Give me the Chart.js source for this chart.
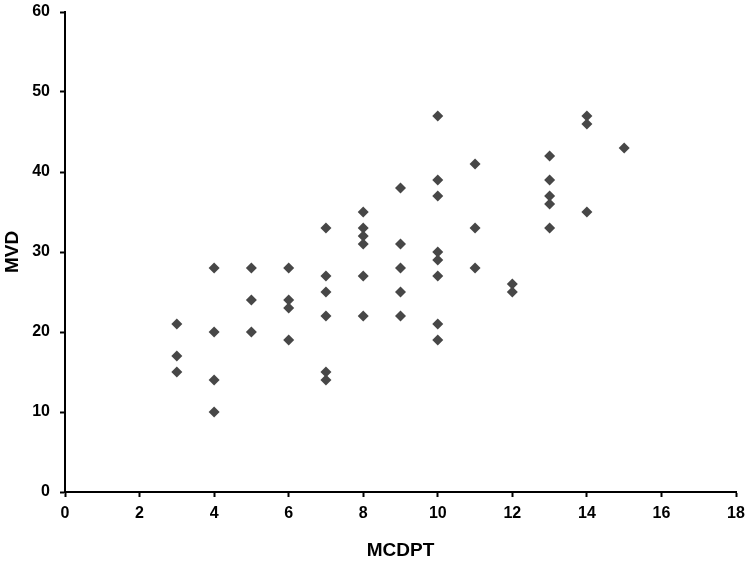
<!DOCTYPE html>
<html>
<head>
<meta charset="utf-8">
<script src="https://cdn.jsdelivr.net/npm/chart.js@4/dist/chart.umd.min.js"></script>
<style>
  html, body { margin: 0; padding: 0; background: #fff; }
  #wrap { width: 747px; height: 562px; }
</style>
</head>
<body>
<div id="wrap"><canvas id="chart" width="747" height="562"></canvas></div>
<script>
// --- Data ---
const mcdpt = [
  3, 3, 3,
  4, 4, 4, 4,
  5, 5, 5,
  6, 6, 6, 6,
  7, 7, 7, 7, 7, 7,
  8, 8, 8, 8, 8, 8,
  9, 9, 9, 9, 9,
  10, 10, 10, 10, 10, 10, 10, 10,
  11, 11, 11,
  12, 12,
  13, 13, 13, 13, 13,
  14, 14, 14,
  15
];
const mvd = [
  21, 17, 15,
  28, 20, 14, 10,
  28, 24, 20,
  28, 24, 23, 19,
  33, 27, 25, 22, 15, 14,
  35, 33, 32, 31, 27, 22,
  38, 31, 28, 25, 22,
  47, 39, 37, 30, 29, 27, 21, 19,
  41, 33, 28,
  26, 25,
  42, 39, 37, 36, 33,
  47, 46, 35,
  43
];
const xTicks = [0, 2, 4, 6, 8, 10, 12, 14, 16, 18];
const yTicks = [0, 10, 20, 30, 40, 50, 60];
const xTitle = 'MCDPT';
const yTitle = 'MVD';

const points = mcdpt.map((x, i) => ({ x: x, y: mvd[i] }));

const tickFont = { family: "'Liberation Sans Narrow', 'Liberation Sans', Arial, sans-serif", size: 16, weight: 'bold' };
const titleFont = { family: "'Liberation Sans', Arial, sans-serif", size: 19, weight: 'bold' };

new Chart(document.getElementById('chart').getContext('2d'), {
  type: 'scatter',
  data: {
    datasets: [{
      data: points,
      pointStyle: 'rectRot',
      pointRadius: 5.5,
      pointHoverRadius: 5.5,
      backgroundColor: '#474747',
      borderColor: '#474747',
      borderWidth: 0
    }]
  },
  options: {
    responsive: false,
    animation: false,
    events: [],
    layout: { padding: { left: 0, top: 12, right: 11, bottom: 0 } },
    plugins: { legend: { display: false }, tooltip: { enabled: false } },
    scales: {
      x: {
        type: 'linear',
        min: xTicks[0],
        max: xTicks[xTicks.length - 1],
        afterBuildTicks: s => { s.ticks = xTicks.map(v => ({ value: v })); },
        afterFit: s => { s.height = 70; s.paddingLeft = 0; s.paddingRight = 0; },
        border: { color: '#000', width: 2 },
        grid: { drawOnChartArea: false, tickLength: 5, tickColor: '#000', tickWidth: 2 },
        ticks: { color: '#000', font: tickFont, padding: 7, maxRotation: 0 },
        title: { display: true, text: xTitle, color: '#000', font: titleFont, padding: { top: 0, bottom: 0 } }
      },
      y: {
        type: 'linear',
        min: yTicks[0],
        max: yTicks[yTicks.length - 1],
        afterBuildTicks: s => { s.ticks = yTicks.map(v => ({ value: v })); },
        afterFit: s => { s.width = 65; s.paddingTop = 0; s.paddingBottom = 0; },
        border: { color: '#000', width: 2 },
        grid: { drawOnChartArea: false, tickLength: 5, tickColor: '#000', tickWidth: 2 },
        ticks: { color: '#000', font: tickFont, padding: 10 },
        title: { display: true, text: yTitle, color: '#000', font: titleFont, padding: { top: 1, bottom: 0 } }
      }
    }
  }
});
</script>
</body>
</html>
